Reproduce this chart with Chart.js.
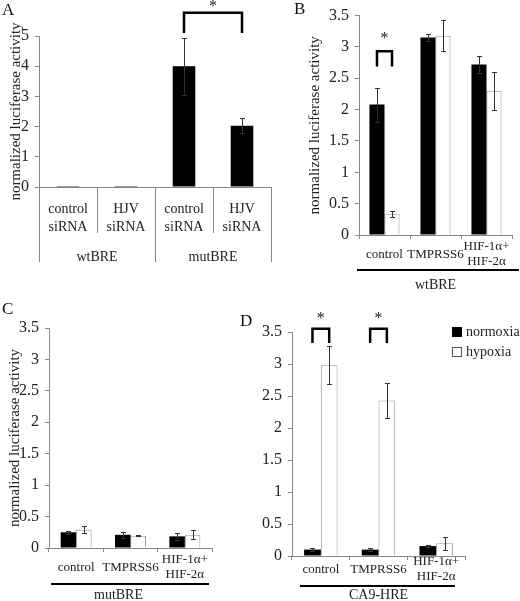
<!DOCTYPE html>
<html lang="en">
<head>
<meta charset="UTF-8">
<title>Normalized luciferase activity</title>
<script src="https://cdn.jsdelivr.net/npm/chart.js@4.4.0/dist/chart.umd.min.js"></script>
<style>
  body { margin: 0; background: #fff; }
  #wrap { position: relative; width: 520px; height: 601px; overflow: hidden; }
  canvas { position: absolute; }
  .letter { position: absolute; font: 17px 'Liberation Serif', serif; color: #111; line-height: 17px; }
</style>
</head>
<body>
<div id="wrap">
  <canvas id="chartA" width="285" height="295" style="left:0;top:0"></canvas>
  <canvas id="chartB" width="235" height="295" style="left:285px;top:0"></canvas>
  <canvas id="chartC" width="245" height="306" style="left:0;top:295px"></canvas>
  <canvas id="chartD" width="275" height="306" style="left:245px;top:295px"></canvas>
  <div class="letter" style="left:2px;top:1px">A</div>
  <div class="letter" style="left:294px;top:0px">B</div>
  <div class="letter" style="left:2px;top:300px">C</div>
  <div class="letter" style="left:240px;top:312px">D</div>
</div>
<script>
const SERIF = "'Liberation Serif', 'Times New Roman', serif";

// panel A: BRE reporters with siRNA
const labelsA = [['control', 'siRNA'], ['HJV', 'siRNA'], ['control', 'siRNA'], ['HJV', 'siRNA']];
const valuesA = [0.03, 0.03, 4.0, 2.03];
const errorsA = [0, 0, 0.94, 0.24];

// panels B-D share categories and series
const conditions = ['control', 'TMPRSS6', ['HIF-1α+', 'HIF-2α']];
const seriesNames = ['normoxia', 'hypoxia'];

const normoxiaB = [2.08, 3.15, 2.72];
const normoxiaErrB = [0.27, 0.05, 0.14];
const hypoxiaB = [0.34, 3.18, 2.30];
const hypoxiaErrB = [0.05, 0.25, 0.30];

const normoxiaC = [0.25, 0.21, 0.185];
const normoxiaErrC = [0.02, 0.045, 0.05];
const hypoxiaC = [0.29, 0.195, 0.21];
const hypoxiaErrC = [0.055, 0.01, 0.07];

const normoxiaD = [0.10, 0.10, 0.155];
const normoxiaErrD = [0.02, 0.02, 0.02];
const hypoxiaD = [2.98, 2.43, 0.20];
const hypoxiaErrD = [0.30, 0.27, 0.10];

const yTitle = 'normalized luciferase activity';

const decor = {
  id: 'decor',
  afterDatasetsDraw(chart) {
    const ctx = chart.ctx, ys = chart.scales.y;
    ctx.save();
    ctx.strokeStyle = '#333';
    ctx.lineWidth = 1;
    chart.data.datasets.forEach((ds, i) => {
      const meta = chart.getDatasetMeta(i);
      ds.errors.forEach((e, j) => {
        if (!e) return;
        const v = ds.data[j];
        const x = Math.round(meta.data[j].x) + 0.5;
        const t = Math.round(ys.getPixelForValue(v + e)) + 0.5;
        const b = Math.round(ys.getPixelForValue(Math.max(v - e, 0))) + 0.5;
        ctx.beginPath();
        ctx.moveTo(x, t); ctx.lineTo(x, b);
        ctx.moveTo(x - 2.5, t); ctx.lineTo(x + 2.5, t);
        ctx.moveTo(x - 2.5, b); ctx.lineTo(x + 2.5, b);
        ctx.stroke();
      });
    });
    ctx.restore();
  },
  afterDraw(chart, args, opts) {
    const ctx = chart.ctx, area = chart.chartArea, xs = chart.scales.x, ys = chart.scales.y;
    const step = xs.getPixelForValue(1) - xs.getPixelForValue(0);
    const edge = k => xs.getPixelForValue(0) + (k - 0.5) * step;
    ctx.save();
    ctx.textAlign = 'center';
    ctx.textBaseline = 'middle';

    (opts.separators || []).forEach(s => {
      const x = Math.round(edge(s.at)) + 0.5;
      ctx.strokeStyle = '#888';
      ctx.lineWidth = 1;
      ctx.beginPath();
      ctx.moveTo(x, area.bottom);
      ctx.lineTo(x, area.bottom + s.len);
      ctx.stroke();
    });

    (opts.groups || []).forEach(g => {
      const x0 = edge(g.from), x1 = edge(g.to + 1);
      if (g.line) {
        ctx.strokeStyle = '#000';
        ctx.lineWidth = 2;
        ctx.beginPath();
        ctx.moveTo(x0 + g.line.ext[0], area.bottom + g.line.dy);
        ctx.lineTo(x1 + g.line.ext[1], area.bottom + g.line.dy);
        ctx.stroke();
      }
      ctx.fillStyle = '#222';
      ctx.font = '14px ' + SERIF;
      ctx.fillText(g.text, (x0 + x1) / 2 + (g.dx || 0), area.bottom + g.dy);
    });

    (opts.brackets || []).forEach(br => {
      const xa = chart.getDatasetMeta(br.from[0]).data[br.from[1]].x;
      const xb = chart.getDatasetMeta(br.to[0]).data[br.to[1]].x;
      const yt = ys.getPixelForValue(br.top), yl = ys.getPixelForValue(br.leg);
      ctx.strokeStyle = '#000';
      ctx.lineWidth = 2.5;
      ctx.beginPath();
      ctx.moveTo(xa, yl); ctx.lineTo(xa, yt); ctx.lineTo(xb, yt); ctx.lineTo(xb, yl);
      ctx.stroke();
      ctx.fillStyle = '#222';
      ctx.font = '16px ' + SERIF;
      ctx.fillText('*', (xa + xb) / 2, ys.getPixelForValue(br.star));
    });

    if (opts.legend) {
      const L = opts.legend;
      chart.data.datasets.forEach((ds, i) => {
        const lx = area.right + L.dx, ly = area.top + L.dy + i * L.gap;
        ctx.fillStyle = ds.backgroundColor;
        ctx.fillRect(lx, ly - 5, 10, 10);
        ctx.strokeStyle = i === 0 ? '#000' : '#555';
        ctx.lineWidth = 1;
        ctx.strokeRect(lx + 0.5, ly - 4.5, 9, 9);
        ctx.fillStyle = '#222';
        ctx.textAlign = 'left';
        ctx.font = '14px ' + SERIF;
        ctx.fillText(ds.label, lx + 14, ly);
      });
    }
    ctx.restore();
  }
};

function pairSets(norm, normErr, hyp, hypErr) {
  return [
    { label: seriesNames[0], data: norm, errors: normErr, backgroundColor: '#000', borderColor: '#000', borderWidth: 0 },
    { label: seriesNames[1], data: hyp, errors: hypErr, backgroundColor: '#fff', borderColor: '#999', borderWidth: 1 }
  ];
}

function makePanel(id, labels, datasets, cfg) {
  return new Chart(document.getElementById(id), {
    type: 'bar',
    data: { labels: labels, datasets: datasets },
    options: {
      responsive: false,
      animation: false,
      devicePixelRatio: 1,
      layout: { padding: cfg.padding },
      datasets: { bar: { categoryPercentage: cfg.catPct, barPercentage: 1.0 } },
      plugins: {
        legend: { display: false },
        tooltip: { enabled: false },
        decor: cfg.decor
      },
      scales: {
        x: {
          ticks: {
            color: '#222', font: { family: SERIF, size: cfg.xFont, lineHeight: cfg.xLine },
            padding: cfg.xPad, crossAlign: cfg.crossAlign, maxRotation: 0, autoSkip: false
          },
          grid: { drawOnChartArea: false, drawTicks: cfg.xTicks, tickLength: 4, color: '#888', offset: true },
          border: { color: '#888' },
          afterFit: s => { s.height = cfg.xHeight; }
        },
        y: {
          min: 0, max: cfg.yMax,
          ticks: {
            stepSize: cfg.yStep, color: '#222', font: { family: SERIF, size: 16 }, padding: cfg.yPad,
            callback: v => String(v)
          },
          grid: { drawOnChartArea: false, tickLength: 4, color: '#888' },
          border: { color: '#888' },
          title: {
            display: !!cfg.title, text: cfg.title, color: '#222',
            font: { family: SERIF, size: 15 }, padding: { top: cfg.titlePad || 0, bottom: 0 }
          },
          afterFit: s => { s.width = cfg.yWidth; }
        }
      }
    },
    plugins: [decor]
  });
}

makePanel('chartA', labelsA,
  [{ label: 'activity', data: valuesA, errors: errorsA, backgroundColor: '#000', borderColor: '#000', borderWidth: 0 }],
  {
    padding: { top: 36, right: 14, bottom: 48, left: 0 },
    catPct: 0.39, yMax: 5, yStep: 1, yWidth: 39, yPad: 6, title: yTitle, titlePad: 7,
    xFont: 14, xLine: 1.29, xPad: 13, crossAlign: 'near', xTicks: false, xHeight: 60,
    decor: {
      separators: [{ at: 0, len: 75 }, { at: 1, len: 46 }, { at: 2, len: 75 }, { at: 3, len: 46 }, { at: 4, len: 75 }],
      groups: [{ text: 'wtBRE', from: 0, to: 1, dy: 70 }, { text: 'mutBRE', from: 2, to: 3, dy: 70 }],
      brackets: [{ from: [0, 2], to: [0, 3], top: 5.77, leg: 5.1, star: 5.98 }]
    }
  });

makePanel('chartB', conditions, pairSets(normoxiaB, normoxiaErrB, hypoxiaB, hypoxiaErrB), {
  padding: { top: 15, right: 8, bottom: 25, left: 0 },
  catPct: 0.59, yMax: 3.5, yStep: 0.5, yWidth: 74, yPad: 6, title: yTitle, titlePad: 21,
  xFont: 13, xLine: 1.15, xPad: 8, crossAlign: 'center', xTicks: true, xHeight: 35,
  decor: {
    groups: [{ text: 'wtBRE', from: 0, to: 2, dy: 50, line: { dy: 35, ext: [-2, 7] } }],
    brackets: [{ from: [0, 0], to: [1, 0], top: 2.93, leg: 2.69, star: 3.13 }]
  }
});

makePanel('chartC', conditions, pairSets(normoxiaC, normoxiaErrC, hypoxiaC, hypoxiaErrC), {
  padding: { top: 33, right: 33, bottom: 18, left: 0 },
  catPct: 0.57, yMax: 3.5, yStep: 0.5, yWidth: 49, yPad: 6, title: yTitle, titlePad: 6,
  xFont: 13, xLine: 1.15, xPad: 8, crossAlign: 'center', xTicks: true, xHeight: 35,
  decor: {
    groups: [{ text: 'mutBRE', from: 0, to: 2, dy: 47, dx: -12, line: { dy: 36, ext: [2, -3] } }]
  }
});

makePanel('chartD', conditions, pairSets(normoxiaD, normoxiaErrD, hypoxiaD, hypoxiaErrD), {
  padding: { top: 37, right: 55, bottom: 15, left: 0 },
  catPct: 0.58, yMax: 3.5, yStep: 0.5, yWidth: 47, yPad: 6, title: '',
  xFont: 13, xLine: 1.15, xPad: 2, crossAlign: 'center', xTicks: true, xHeight: 30,
  decor: {
    groups: [{ text: 'CA9-HRE', from: 0, to: 2, dy: 39, line: { dy: 30, ext: [8, -10] } }],
    brackets: [
      { from: [0, 0], to: [1, 0], top: 3.55, leg: 3.33, star: 3.71 },
      { from: [0, 1], to: [1, 1], top: 3.55, leg: 3.33, star: 3.71 }
    ],
    legend: { dx: -13, dy: 0, gap: 20 }
  }
});
</script>
</body>
</html>
